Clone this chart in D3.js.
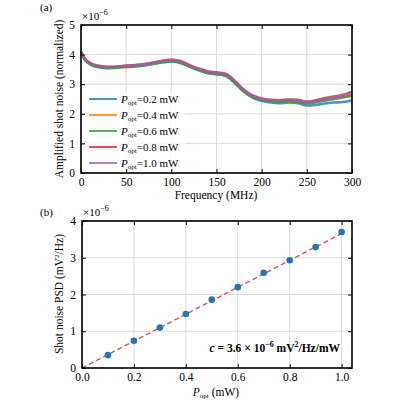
<!DOCTYPE html><html><head><meta charset="utf-8"><script src="https://cdn.jsdelivr.net/npm/d3@7"></script>
<style>body{margin:0;background:#fff}text{font-family:"Liberation Serif","DejaVu Serif",serif;fill:#000}</style></head><body><svg width="400" height="400"></svg><script>
const freq=[0,5,10,20,30,40,50,60,70,80,90,100,110,120,130,140,150,160,170,180,190,200,210,220,230,240,250,260,270,280,290,300];
const s02=[4.05,3.8,3.68,3.58,3.55,3.57,3.59,3.61,3.64,3.69,3.74,3.77,3.72,3.6,3.48,3.38,3.34,3.28,3.05,2.75,2.55,2.44,2.38,2.36,2.38,2.36,2.28,2.3,2.35,2.38,2.4,2.45];
const s04=[4.08,3.82,3.7,3.6,3.57,3.58,3.61,3.63,3.66,3.71,3.77,3.81,3.76,3.63,3.5,3.41,3.37,3.32,3.09,2.79,2.59,2.49,2.44,2.42,2.44,2.42,2.36,2.4,2.46,2.5,2.55,2.6];
const s06=[4.06,3.8,3.67,3.57,3.54,3.56,3.58,3.6,3.63,3.68,3.74,3.78,3.73,3.6,3.47,3.38,3.34,3.29,3.06,2.76,2.56,2.47,2.42,2.4,2.42,2.4,2.35,2.39,2.45,2.5,2.56,2.62];
const s08=[4.1,3.84,3.72,3.62,3.59,3.6,3.63,3.65,3.68,3.73,3.79,3.83,3.78,3.65,3.53,3.44,3.4,3.35,3.12,2.82,2.62,2.52,2.47,2.46,2.48,2.47,2.41,2.46,2.53,2.58,2.64,2.75];
const s10=[4.09,3.83,3.71,3.61,3.58,3.59,3.62,3.64,3.67,3.72,3.78,3.82,3.77,3.64,3.52,3.43,3.39,3.34,3.11,2.81,2.61,2.51,2.46,2.45,2.47,2.46,2.4,2.44,2.5,2.55,2.6,2.7];
const seriesNames=["0.2","0.4","0.6","0.8","1.0"];
const seriesVals=[s02,s04,s06,s08,s10];
const colors=["#1f77b4","#ff7f0e","#2ca02c","#d62728","#9467bd"];
const xTicksA=[0,50,100,150,200,250,300], yTicksA=[0,1,2,3,4,5];
const power=[0.1,0.2,0.3,0.4,0.5,0.6,0.7,0.8,0.9,1.0];
const psd=[0.35,0.74,1.1,1.47,1.86,2.2,2.59,2.93,3.29,3.7];
const slope=3.66;
const xTicksB=[0,0.2,0.4,0.6,0.8,1.0], yTicksB=[0,1,2,3,4];

const svg=d3.select("svg");
function frame(g,x,y,xt,yt){
  const [x0,x1]=x.range(),[y0,y1]=y.range();
  xt.forEach(t=>g.append("line").attr("x1",x(t)).attr("x2",x(t)).attr("y1",y0).attr("y2",y1).attr("stroke","#d0d0d0").attr("stroke-width",0.8));
  yt.forEach(t=>g.append("line").attr("y1",y(t)).attr("y2",y(t)).attr("x1",x0).attr("x2",x1).attr("stroke","#d0d0d0").attr("stroke-width",0.8));
}
function axes(g,x,y,xt,yt,xf){
  const [x0,x1]=x.range(),[y0,y1]=y.range();
  g.append("g").attr("transform",`translate(0,${y0})`).call(d3.axisBottom(x).tickValues(xt).tickFormat(xf).tickSize(-4).tickPadding(5)).call(a=>{a.select(".domain").remove();a.selectAll("text").attr("font-size",11.5)});
  g.append("g").attr("transform",`translate(0,${y1})`).call(d3.axisTop(x).tickValues(xt).tickSize(-4).tickFormat("")).call(a=>a.select(".domain").remove());
  g.append("g").attr("transform",`translate(${x0},0)`).call(d3.axisLeft(y).tickValues(yt).tickFormat(d3.format("d")).tickSize(-4).tickPadding(6)).call(a=>{a.select(".domain").remove();a.selectAll("text").attr("font-size",11.5)});
  g.append("g").attr("transform",`translate(${x1},0)`).call(d3.axisRight(y).tickValues(yt).tickSize(-4).tickFormat("")).call(a=>a.select(".domain").remove());
  g.append("rect").attr("x",x0).attr("y",y1).attr("width",x1-x0).attr("height",y0-y1).attr("fill","none").attr("stroke","#000").attr("stroke-width",1.6);
}
// Panel a
const ga=svg.append("g");
const xa=d3.scaleLinear().domain([0,300]).range([81,352]);
const ya=d3.scaleLinear().domain([0,5]).range([173,25]);
frame(ga,xa,ya,xTicksA,yTicksA);
const line=d3.line().x((d,i)=>xa(freq[i])).y(d=>ya(d)).curve(d3.curveMonotoneX);
seriesVals.forEach((v,k)=>ga.append("path").attr("d",line(v)).attr("fill","none").attr("stroke",colors[k]).attr("stroke-width",2.6).attr("opacity",0.8));
axes(ga,xa,ya,xTicksA,yTicksA,d3.format("d"));
ga.append("text").attr("x",82).attr("y",20).attr("font-size",11).html('×10<tspan dy="-5" font-size="8">−6</tspan>');
ga.append("text").attr("x",40).attr("y",11).attr("font-size",11).text("(a)");
ga.append("text").attr("x",216).attr("y",199).attr("text-anchor","middle").attr("font-size",11.5).text("Frequency (MHz)");
ga.append("text").attr("transform","translate(63,99) rotate(-90)").attr("text-anchor","middle").attr("font-size",11.5).text("Amplified shot noise (normalized)");
const lg=ga.append("g");
lg.append("rect").attr("x",85).attr("y",91).attr("width",100).attr("height",78).attr("fill","#fff").attr("opacity",0.8).attr("rx",2);
seriesNames.forEach((n,k)=>{const yy=99+k*16;
  lg.append("line").attr("x1",89).attr("x2",117).attr("y1",yy).attr("y2",yy).attr("stroke",colors[k]).attr("stroke-width",1.6);
  lg.append("text").attr("x",121).attr("y",yy+4).attr("font-size",11).html(`<tspan font-style="italic">P</tspan><tspan font-size="7" dy="2">opt</tspan><tspan dy="-2">=${n} mW</tspan>`);});
// Panel b
const gb=svg.append("g");
const xb=d3.scaleLinear().domain([0,1.04]).range([82,352]);
const yb=d3.scaleLinear().domain([0,4]).range([368,221]);
frame(gb,xb,yb,xTicksB,yTicksB);
gb.append("line").attr("x1",xb(0)).attr("y1",yb(0)).attr("x2",xb(1)).attr("y2",yb(slope)).attr("stroke","#d62728").attr("stroke-width",1.4).attr("stroke-dasharray","5,3").attr("opacity",0.8);
gb.selectAll("circle").data(power).join("circle").attr("cx",d=>xb(d)).attr("cy",(d,i)=>yb(psd[i])).attr("r",3.3).attr("fill","#1f77b4");
axes(gb,xb,yb,xTicksB,yTicksB,d3.format(".1f"));
gb.append("text").attr("x",83).attr("y",216).attr("font-size",11).html('×10<tspan dy="-5" font-size="8">−6</tspan>');
gb.append("text").attr("x",40).attr("y",216).attr("font-size",11).text("(b)");
gb.append("text").attr("x",216).attr("y",396).attr("text-anchor","middle").attr("font-size",11.5).html('<tspan font-style="italic">P</tspan><tspan font-size="7" dy="2">opt</tspan><tspan dy="-2"> (mW)</tspan>');
gb.append("text").attr("transform","translate(63,294) rotate(-90)").attr("text-anchor","middle").attr("font-size",11.5).html('Shot noise PSD (mV<tspan dy="-4" font-size="7">2</tspan><tspan dy="4">/Hz)</tspan>');
gb.append("text").attr("x",340).attr("y",352).attr("text-anchor","end").attr("font-size",11.5).attr("font-weight","bold").html('<tspan font-style="italic">c</tspan> = 3.6 × 10<tspan dy="-5" font-size="8">−6</tspan><tspan dy="5"> mV</tspan><tspan dy="-5" font-size="8">2</tspan><tspan dy="5">/Hz/mW</tspan>');
</script></body></html>
